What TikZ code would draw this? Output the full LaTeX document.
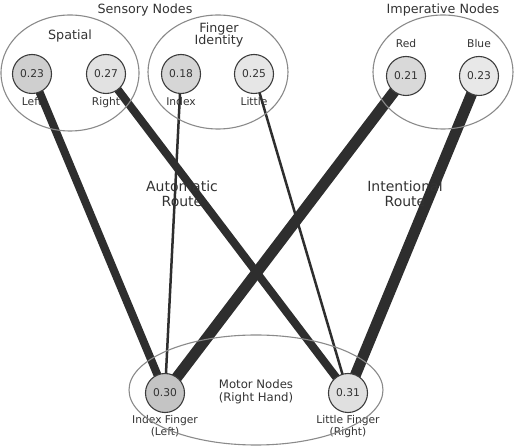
\documentclass[tikz,border=0pt]{standalone}
\usepackage{fontspec}
\setmainfont{DejaVu Sans}
\usepackage{xcolor}
\usepackage{tikz}
\usetikzlibrary{positioning,backgrounds}
\definecolor{ggray}{HTML}{8A8A8A}
\definecolor{ngray}{HTML}{3C3C3C}
\definecolor{tgray}{HTML}{333333}
\definecolor{egray}{HTML}{2E2E2E}
\definecolor{fleft}{HTML}{CFCFCF}
\definecolor{fright}{HTML}{E2E2E2}
\definecolor{findex}{HTML}{D6D6D6}
\definecolor{flittle}{HTML}{E6E6E6}
\definecolor{fred}{HTML}{D9D9D9}
\definecolor{fblue}{HTML}{E8E8E8}
\definecolor{fmidx}{HTML}{C4C4C4}
\definecolor{fmltl}{HTML}{E0E0E0}
\newcommand{\fsz}[1]{\fontsize{#1}{#1}\selectfont}

\begin{document}
\begin{tikzpicture}[x=1pt,y=-1pt,
    group/.style={draw=ggray,line width=1.1pt},
    title/.style={text=tgray,font=\fsz{12.7},align=center,inner sep=0pt},
    route/.style={text=tgray,font=\fsz{14},align=center,inner sep=0pt},
    unit/.style={circle,draw=ngray,line width=1.1pt,minimum size=39pt,
                 inner sep=0pt,text=tgray,font=\fsz{10.7}},
    tag/.style={text=tgray,font=\fsz{10.7},align=center,inner sep=0pt,
                text height=7.8pt,text depth=2pt},
    link/.style={draw=egray,line cap=butt}]
  \useasboundingbox (0,0) rectangle (515,446);

  % groups
  \draw[group] (70,73) ellipse [x radius=69pt,y radius=58pt];
  \draw[group] (218,72) ellipse [x radius=70pt,y radius=57pt];
  \draw[group] (443,72) ellipse [x radius=70pt,y radius=57pt];
  \draw[group] (256,390) ellipse [x radius=127pt,y radius=55pt];

  \node[title] (sens) at (145,10) {Sensory Nodes};
  \node[title] (imp) at (443,10) {Imperative Nodes};
  \node[title] (spat) at (70,36) {Spatial};
  \node[title] (fid) at (219,35) {Finger\\[-1pt]Identity};
  \node[title,font=\fsz{11.7}] (mot) at (256,392) {Motor Nodes\\[1pt](Right Hand)};

  % units
  \node[unit,fill=fleft] (lft) at (32,74) {0.23};
  \node[unit,fill=fright] (rgt) at (106,74) {0.27};
  \node[unit,fill=findex] (idx) at (181,74) {0.18};
  \node[unit,fill=flittle] (ltl) at (254,74) {0.25};
  \node[unit,fill=fred] (red) at (406,76) {0.21};
  \node[unit,fill=fblue] (blu) at (479,76) {0.23};
  \node[unit,fill=fmidx] (midx) at (165,393) {0.30};
  \node[unit,fill=fmltl] (mltl) at (348,393) {0.31};

  % weights, drawn over the labels and under the units
  \begin{scope}[on background layer]
    \node[tag,below=3pt of lft] (lftl) {Left};
    \node[tag,below=3pt of rgt] (rgtl) {Right};
    \node[tag,below=3pt of idx] (idxl) {Index};
    \node[tag,below=3pt of ltl] (ltll) {Little};
    \node[tag,above=6pt of red] (redl) {Red};
    \node[tag,above=6pt of blu] (blul) {Blue};
    \node[tag,below=2pt of midx,text height=,text depth=] (midxl) {Index Finger\\[1pt](Left)};
    \node[tag,below=2pt of mltl,text height=,text depth=] (mltll) {Little Finger\\[1pt](Right)};

    \draw[link,line width=8pt] (lft.center) -- (midx.center);
    \draw[link,line width=8pt] (rgt.center) -- (mltl.center);
    \draw[link,line width=2.5pt] (idx.center) -- (midx.center);
    \draw[link,line width=2.5pt] (ltl.center) -- (mltl.center);
    \draw[link,line width=11pt] (red.center) -- (midx.center);
    \draw[link,line width=11pt] (blu.center) -- (mltl.center);
  \end{scope}

  \node[route] (auto) at (182,194) {Automatic\\[1pt]Route};
  \node[route] (inten) at (405,194) {Intentional\\[1pt]Route};
\end{tikzpicture}
\end{document}
